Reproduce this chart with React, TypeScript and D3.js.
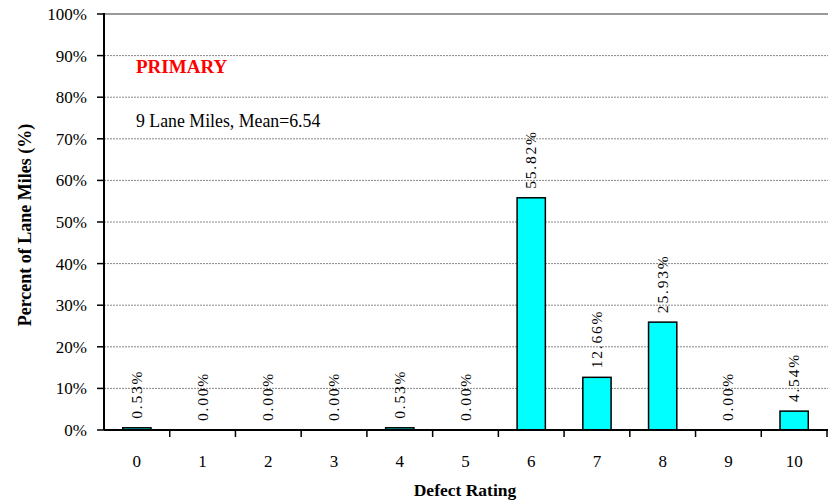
import React from "react";
import * as d3 from "d3";

const categories = ["0", "1", "2", "3", "4", "5", "6", "7", "8", "9", "10"];
const values = [0.53, 0.0, 0.0, 0.0, 0.53, 0.0, 55.82, 12.66, 25.93, 0.0, 4.54];
const yTicks = [0, 10, 20, 30, 40, 50, 60, 70, 80, 90, 100];

const W = 828, H = 503;
const left = 104, right = 827, top = 14, bottom = 430;
const font = "Liberation Serif";

export default function App() {
  const x = d3.scaleBand<string>().domain(categories).range([left, right]).paddingInner(0).paddingOuter(0);
  const y = d3.scaleLinear().domain([0, 100]).range([bottom, top]);
  const bw = x.bandwidth() * 0.43;
  const ts = { fontFamily: font };
  return (
    <svg width={W} height={H} style={{ position: "absolute", left: 0, top: 0, fontFamily: font }}>
      <rect width={W} height={H} fill="#fff" />
      {yTicks.filter(t => t > 0).map(t => (
        <line key={"g" + t} x1={left} x2={W} y1={y(t)} y2={y(t)} stroke={t === 100 ? "#999" : "#888"} strokeWidth={t === 100 ? 2 : 1} strokeDasharray={t === 100 ? undefined : "2,1"} />
      ))}
      {categories.map((c, i) => {
        const v = values[i];
        const cx = x(c)! + x.bandwidth() / 2;
        const yt = y(v);
        return (
          <g key={c}>
            {v > 0 && (
              <rect x={cx - bw / 2} y={yt} width={bw} height={bottom - yt} fill="#00FFFF" stroke="#000" strokeWidth={1.5} />
            )}
            <text transform={`translate(${cx + 5},${yt - 9}) rotate(-90)`} fontSize={15.5} letterSpacing={1.8} fill="#000" style={ts}>{v.toFixed(2) + "%"}</text>
          </g>
        );
      })}
      <line x1={left} x2={left} y1={top - 1} y2={bottom} stroke="#000" strokeWidth={2} />
      <line x1={left} x2={W} y1={bottom} y2={bottom} stroke="#000" strokeWidth={2} />
      {yTicks.map(t => (
        <g key={"y" + t}>
          <line x1={left - 7} x2={left} y1={y(t)} y2={y(t)} stroke="#000" strokeWidth={1.5} />
          <text x={87} y={y(t) + 6} textAnchor="end" fontSize={17} fill="#000" style={ts}>{t + "%"}</text>
        </g>
      ))}
      {categories.map(c => {
        const xe = x(c)! + x.bandwidth();
        return <line key={"t" + c} x1={xe} x2={xe} y1={bottom} y2={bottom + 7} stroke="#000" strokeWidth={1.5} />;
      })}
      {categories.map(c => (
        <text key={"l" + c} x={x(c)! + x.bandwidth() / 2} y={467} textAnchor="middle" fontSize={17} fill="#000" style={ts}>{c}</text>
      ))}
      <text x={465} y={496} textAnchor="middle" fontSize={17.5} fontWeight="bold" fill="#000" style={ts}>Defect Rating</text>
      <text transform={`translate(31,225) rotate(-90)`} textAnchor="middle" fontSize={18} fontWeight="bold" fill="#000" style={ts}>Percent of Lane Miles (%)</text>
      <text x={136} y={73} fontSize={19} fontWeight="bold" fill="#FF0000" style={ts}>PRIMARY</text>
      <text x={136} y={127} fontSize={17.8} fill="#000" style={ts}>9 Lane Miles, Mean=6.54</text>
    </svg>
  );
}
